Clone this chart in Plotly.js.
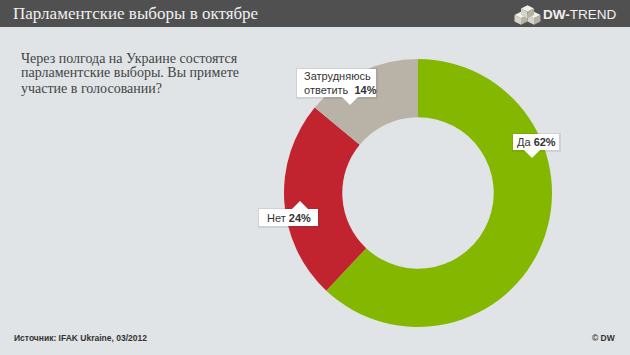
<!DOCTYPE html>
<html>
<head>
<meta charset="utf-8">
<script src="https://cdn.plot.ly/plotly-3.0.1.min.js"></script>
<style>html,body{margin:0;padding:0;background:#e0e4e7;overflow:hidden}#chart{width:630px;height:355px}</style>
</head>
<body>
<div id="chart"></div>
<script>
const categories = ['Да', 'Нет', 'Затрудняюсь ответить'];
const values = [62, 24, 14];
const sliceColors = ['#84b800', '#c1232f', '#b9b2a6'];
const titleText = 'Парламентские выборы в октябре';
const questionLines = ['Через полгода на Украине состоятся', 'парламентские выборы. Вы примете', 'участие в голосовании?'];
const sourceText = 'Источник: IFAK Ukraine, 03/2012';
const creditText = '© DW';

const W = 630, H = 355;
const px = x => x / W, py = y => 1 - y / H;
const SANS = 'Liberation Sans, Arial, sans-serif';
const SERIF = 'Liberation Serif, Georgia, serif';

function poly(points, fill, line) {
  const path = points.map((p, i) => (i ? 'L' : 'M') + px(p[0]) + ',' + py(p[1])).join(' ') + ' Z';
  return {type: 'path', xref: 'paper', yref: 'paper', path, fillcolor: fill, line: {width: line ? 0.5 : 0, color: line || 'rgba(0,0,0,0)'}, layer: 'above'};
}
function rect(x0, y0, x1, y1, fill, layer) {
  return {type: 'rect', xref: 'paper', yref: 'paper', x0: px(x0), x1: px(x1), y0: py(y0), y1: py(y1),
          fillcolor: fill, line: {width: 0}, layer: layer || 'above'};
}
function note(x, y, text, font, anchor, align) {
  return {xref: 'paper', yref: 'paper', x: px(x), y: py(y), text, showarrow: false, xanchor: anchor || 'left',
          yanchor: 'middle', align: align || 'left', font, borderpad: 0, borderwidth: 0};
}
function cube(cx, cy, s) {
  const a = s, b = s * 0.5, h = s;
  return [
    poly([[cx, cy - b], [cx + a, cy], [cx, cy + b], [cx - a, cy]], '#f0efe9'),
    poly([[cx - a, cy], [cx, cy + b], [cx, cy + b + h], [cx - a, cy + h]], '#d6d3c8'),
    poly([[cx + a, cy], [cx, cy + b], [cx, cy + b + h], [cx + a, cy + h]], '#b5b2a6')
  ];
}
function callout(x0, y0, x1, y1, tip) {
  const pts = tip.dir === 'down'
    ? [[tip.x - 8, y1], [tip.x, tip.y], [tip.x + 8, y1]]
    : [[tip.x - 8, y0], [tip.x, tip.y], [tip.x + 8, y0]];
  return [rect(x0 - 1, y0 - 1, x1 + 2, y1 + 2, 'rgba(60,60,60,0.10)'), rect(x0, y0, x1, y1, '#ffffff'), poly(pts, '#ffffff')];
}

const labelFont = {family: SANS, size: 11, color: '#333333'};
const questionFont = {family: SERIF, size: 14, color: '#444444'};
const shapes = [
  rect(0, 0, W, 27, '#505050'),
  ...cube(534, 15, 6.5), ...cube(521, 15, 6.5), ...cube(527.5, 8.5, 6.5),
  ...callout(297, 69, 376, 97, {x: 350, y: 105, dir: 'down'}),
  ...callout(259, 209, 318, 226, {x: 300, y: 201, dir: 'up'}),
  ...callout(513, 134, 559, 150, {x: 532, y: 158, dir: 'down'})
];

const annotations = [
  note(13, 14, titleText, {family: SERIF, size: 17, color: '#f0f0f0'}),
  note(543, 14.5, '<b>DW-</b>TREND', {family: SANS, size: 13.5, color: '#f0f0f0'}),
  note(21, 58, questionLines[0], questionFont),
  note(21, 73, questionLines[1], questionFont),
  note(21, 88, questionLines[2], questionFont),
  note(304, 83, 'Затрудняюсь<br>ответить  <b>14%</b>', labelFont),
  note(267, 217.5, 'Нет <b>24%</b>', labelFont),
  note(517, 142, 'Да <b>62%</b>', labelFont),
  note(14, 338, '<b>' + sourceText + '</b>', {family: SANS, size: 8.5, color: '#333333'}),
  note(616, 338, '<b>' + creditText + '</b>', {family: SANS, size: 8.5, color: '#333333'}, 'right', 'right')
];

Plotly.newPlot('chart', [{
  type: 'pie',
  labels: categories,
  values: values,
  hole: 0.565,
  sort: false,
  direction: 'clockwise',
  rotation: 0,
  textinfo: 'none',
  hoverinfo: 'none',
  marker: {colors: sliceColors, line: {width: 0}},
  domain: {x: [px(284), px(552)], y: [py(327), py(59)]}
}], {
  width: W, height: H,
  margin: {l: 0, r: 0, t: 0, b: 0},
  paper_bgcolor: '#e0e4e7',
  showlegend: false,
  shapes, annotations
}, {displayModeBar: false, staticPlot: true});
</script>
</body>
</html>
